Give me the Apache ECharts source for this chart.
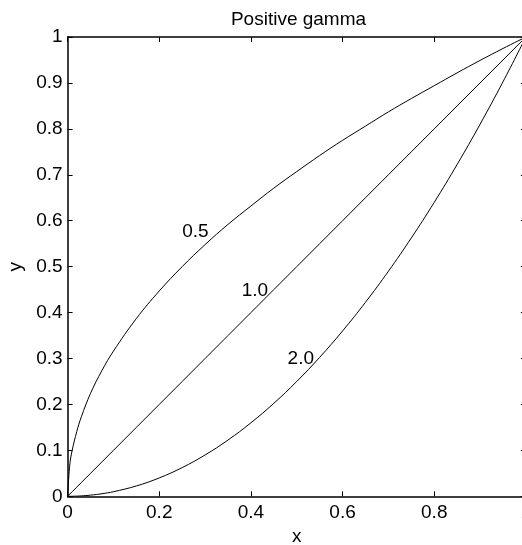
<!DOCTYPE html>
<html>
<head>
<meta charset="utf-8">
<script src="https://cdn.jsdelivr.net/npm/echarts@6/dist/echarts.min.js"></script>
<style>
html,body{margin:0;padding:0;background:#fff;}
#chart{width:522px;height:545px;}
</style>
</head>
<body>
<div id="chart"></div>
<script>
// x samples (read along the x axis)
var xValues = [0, 0.005, 0.01, 0.02, 0.03, 0.05, 0.075, 0.1, 0.15, 0.2, 0.25, 0.3, 0.35, 0.4, 0.45, 0.5, 0.55, 0.6, 0.65, 0.7, 0.75, 0.8, 0.85, 0.9, 0.95, 1.0];
// gamma 0.5 curve
var gamma05 = [0, 0.071, 0.1, 0.141, 0.173, 0.224, 0.274, 0.316, 0.387, 0.447, 0.5, 0.548, 0.592, 0.632, 0.671, 0.707, 0.742, 0.775, 0.806, 0.837, 0.866, 0.894, 0.922, 0.949, 0.975, 1.0];
// gamma 1.0 line
var gamma10 = [0, 0.005, 0.01, 0.02, 0.03, 0.05, 0.075, 0.1, 0.15, 0.2, 0.25, 0.3, 0.35, 0.4, 0.45, 0.5, 0.55, 0.6, 0.65, 0.7, 0.75, 0.8, 0.85, 0.9, 0.95, 1.0];
// gamma 2.0 curve
var gamma20 = [0, 0.00003, 0.0001, 0.0004, 0.0009, 0.0025, 0.0056, 0.01, 0.0225, 0.04, 0.0625, 0.09, 0.1225, 0.16, 0.2025, 0.25, 0.3025, 0.36, 0.4225, 0.49, 0.5625, 0.64, 0.7225, 0.81, 0.9025, 1.0];
// curve annotations [x, y, text]
var labelX = [0.25, 0.38, 0.48];
var labelY = [0.575, 0.448, 0.30];
var labelText = ['0.5', '1.0', '2.0'];
var titleText = 'Positive gamma';
var xName = 'x', yName = 'y';

function pairs(xs, ys) { return xs.map(function (x, i) { return [x, ys[i]]; }); }

var FONT = 'Liberation Sans, Arial, sans-serif';
var FS = 19;
var lineStyle = { color: '#000', width: 1 };

var chart = echarts.init(document.getElementById('chart'), null, { renderer: 'canvas' });
var option = {
  animation: false,
  backgroundColor: '#fff',
  title: {
    text: titleText, left: 293.5, top: 5, textAlign: 'center',
    textStyle: { fontFamily: FONT, fontSize: FS, fontWeight: 'normal', color: '#000' }
  },
  grid: { left: 67.6, top: 37, width: 458.3, height: 459.3, containLabel: false, outerBoundsMode: 'none' },
  xAxis: [{
    type: 'value', min: 0, max: 1, interval: 0.2, position: 'bottom',
    name: xName, nameLocation: 'middle', nameGap: 29,
    nameTextStyle: { fontFamily: FONT, fontSize: FS, color: '#000' },
    axisLine: { show: true, onZero: false, lineStyle: { color: '#000', width: 1.5 } },
    axisTick: { show: true, inside: true, length: 5, lineStyle: { color: '#000' } },
    axisLabel: { fontFamily: FONT, fontSize: FS, color: '#000', margin: 7,
      formatter: function (v) { return String(Math.round(v * 10) / 10); } },
    splitLine: { show: false }
  }, {
    type: 'value', min: 0, max: 1, interval: 0.2, position: 'top',
    axisLine: { show: true, onZero: false, lineStyle: { color: '#000', width: 1.5 } },
    axisTick: { show: true, inside: true, length: 5, lineStyle: { color: '#000' } },
    axisLabel: { show: false }, splitLine: { show: false }
  }],
  yAxis: [{
    type: 'value', min: 0, max: 1, interval: 0.1, position: 'left',
    name: yName, nameLocation: 'middle', nameGap: 41, nameRotate: 90,
    nameTextStyle: { fontFamily: FONT, fontSize: FS, color: '#000' },
    axisLine: { show: true, onZero: false, lineStyle: { color: '#000', width: 1.5 } },
    axisTick: { show: true, inside: true, length: 5, lineStyle: { color: '#000' } },
    axisLabel: { fontFamily: FONT, fontSize: FS, color: '#000', margin: 5,
      formatter: function (v) { return String(Math.round(v * 10) / 10); } },
    splitLine: { show: false }
  }, {
    type: 'value', min: 0, max: 1, interval: 0.1, position: 'right',
    axisLine: { show: true, onZero: false, lineStyle: { color: '#000', width: 1.5 } },
    axisTick: { show: true, inside: true, length: 5, lineStyle: { color: '#000' } },
    axisLabel: { show: false }, splitLine: { show: false }
  }],
  series: [
    { type: 'line', data: pairs(xValues, gamma05), showSymbol: false, smooth: 0.4, lineStyle: lineStyle, silent: true },
    { type: 'line', data: pairs(xValues, gamma10), showSymbol: false, lineStyle: lineStyle, silent: true },
    { type: 'line', data: pairs(xValues, gamma20), showSymbol: false, smooth: 0.4, lineStyle: lineStyle, silent: true },
    {
      type: 'scatter', symbolSize: 0, silent: true,
      itemStyle: { opacity: 1, color: '#000' },
      data: labelX.map(function (x, i) { return [x, labelY[i], labelText[i]]; }),
      label: {
        show: true, position: 'right', distance: 0, opacity: 1,
        formatter: function (p) { return p.value[2]; },
        fontFamily: FONT, fontSize: FS, color: '#000', textBorderWidth: 0
      }
    }
  ]
};
chart.setOption(option);
</script>
</body>
</html>
